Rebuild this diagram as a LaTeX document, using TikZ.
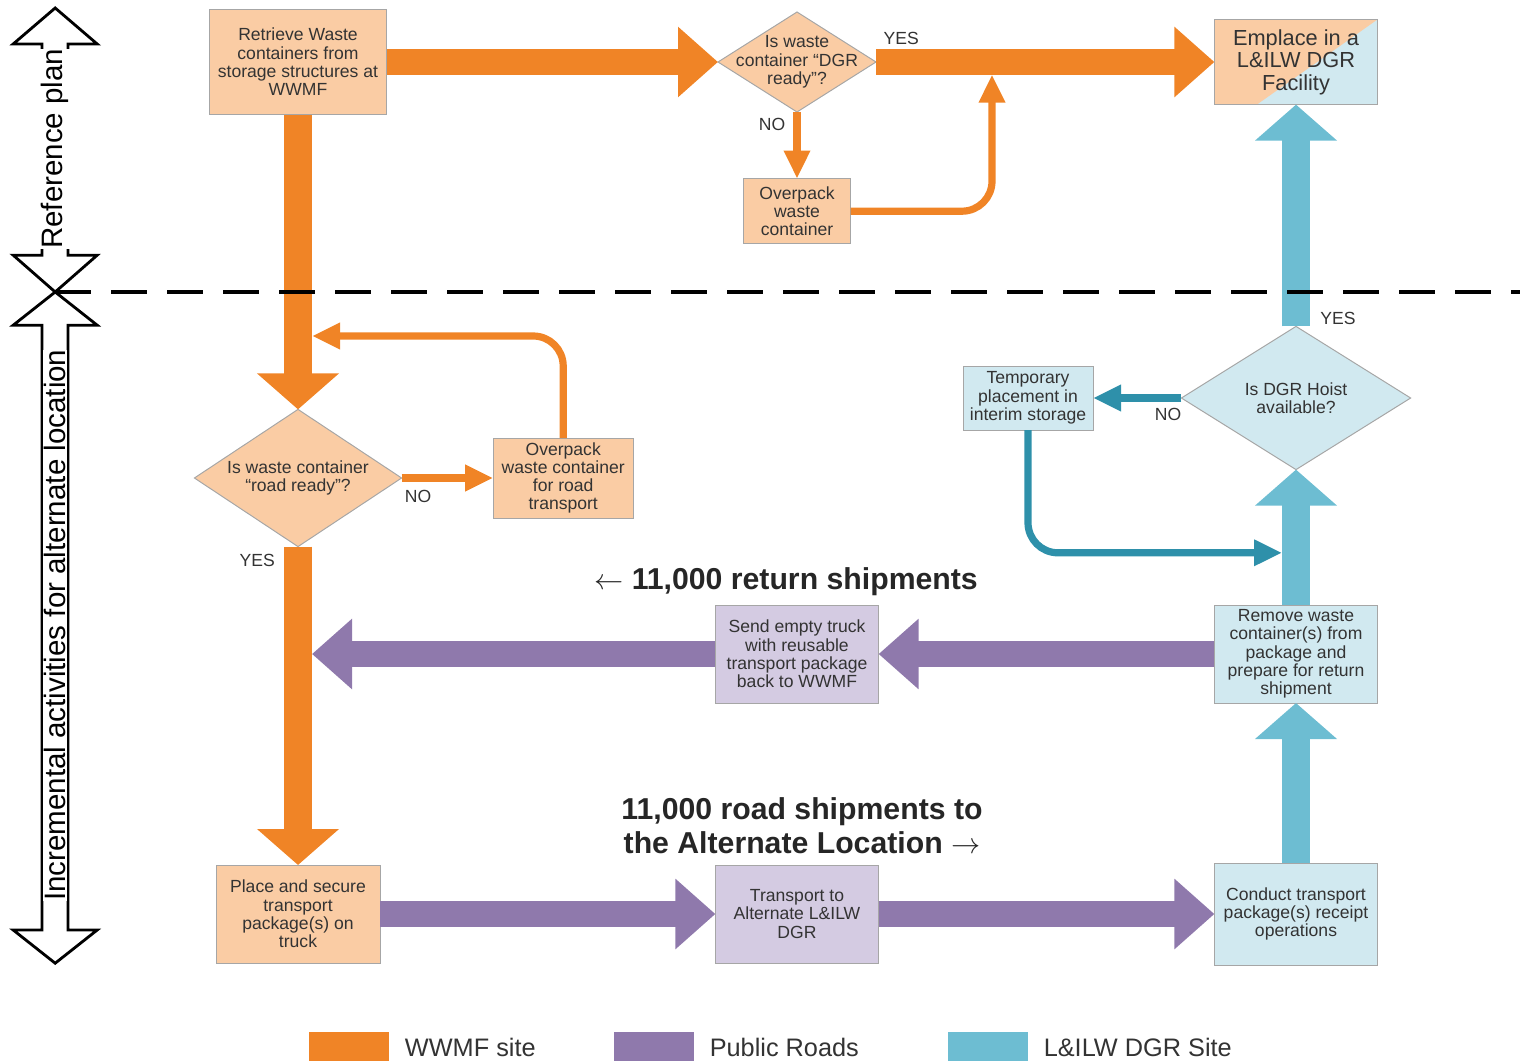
\documentclass[tikz,border=0pt]{standalone}
\usepackage{fontspec}
\setmainfont{Liberation Sans}
\usetikzlibrary{arrows.meta,calc,positioning,shapes.geometric}
\definecolor{wwmfc}{RGB}{240,132,38}
\definecolor{wwmfl}{RGB}{250,204,164}
\definecolor{roadc}{RGB}{143,121,172}
\definecolor{roadl}{RGB}{212,203,226}
\definecolor{sitec}{RGB}{109,189,210}
\definecolor{sitel}{RGB}{209,233,240}
\definecolor{sited}{RGB}{46,144,170}
\tikzset{box/.style={draw=black!35,line width=0.7pt,align=center,inner sep=2pt,outer sep=0pt,
    minimum width=4.08cm,minimum height=2.45cm,text=black!80,font=\fontsize{12.5}{13}\selectfont},
  dia/.style={box,diamond,inner sep=0pt},
  hflow/.style={line width=0.63cm,-{Triangle[length=1cm,width=1.7cm]}},
  vflow/.style={line width=0.7cm,-{Triangle[length=0.9cm,width=2cm]}},
  thinflow/.style={line width=0.18cm,-{Triangle[length=0.7cm,width=0.62cm]}}}

\begin{document}
\begin{tikzpicture}[
  tag/.style={text=black!80,font=\fontsize{12.5}{13}\selectfont,inner sep=0pt},
  big/.style={align=center,text=black!85,font=\fontsize{21.5}{24}\selectfont\bfseries},
  side/.style={rotate=90,fill=white,inner xsep=0pt,inner ysep=1pt,font=\fontsize{21}{22}\selectfont},
  key/.style={minimum width=2cm,minimum height=0.9cm,inner sep=0pt}]
\useasboundingbox (0,0) rectangle (38,-26.5);
\node[box,fill=wwmfl,minimum width=4.43cm,minimum height=2.63cm] (retrieve) at (7.45,-1.55) {Retrieve Waste\\containers from\\storage structures at\\WWMF};
\node[dia,fill=wwmfl,aspect=1.58,inner sep=-7pt,minimum width=3.95cm,minimum height=2.5cm] (dgrq) at (19.925,-1.55) {Is waste\\container ``DGR\\ready''?};
\node[box,fill=sitel,minimum height=2.13cm,font=\fontsize{15.5}{16}\selectfont,
  path picture={\fill[wwmfl] (path picture bounding box.north west) -- (path picture bounding box.north east)
    -- ($(path picture bounding box.south west)!0.26!(path picture bounding box.south east)$) -- (path picture bounding box.south west) -- cycle;}]
  (emplace) at (32.4,-1.55) {Emplace in a\\L\&ILW DGR\\Facility};
\node[box,fill=wwmfl,minimum width=2.68cm,minimum height=1.63cm] (ovpk) at (19.925,-5.28) {Overpack\\waste\\container};
\node[dia,fill=wwmfl,aspect=1.51,minimum width=5.18cm,minimum height=3.43cm] (roadq) at (7.45,-11.95) {Is waste container\\``road ready''?};
\node[box,fill=wwmfl,minimum width=3.5cm,minimum height=2cm] (ovpkroad) at (14.08,-11.95) {Overpack\\waste container\\for road\\transport};
\node[box,fill=sitel,minimum width=3.25cm,minimum height=1.6cm] (temp) at (25.7,-9.95) {Temporary\\placement in\\interim storage};
\node[dia,fill=sitel,aspect=1.6,minimum width=5.73cm,minimum height=3.58cm] (hoist) at (32.4,-9.95) {Is DGR Hoist\\available?};
\node[box,fill=sitel] (remove) at (32.4,-16.35) {Remove waste\\container(s) from\\package and\\prepare for return\\shipment};
\node[box,fill=roadl] (sendback) at (19.925,-16.35) {Send empty truck\\with reusable\\transport package\\back to WWMF};
\node[box,fill=wwmfl,minimum width=4.1cm] (place) at (7.45,-22.85) {Place and secure\\transport\\package(s) on\\truck};
\node[box,fill=roadl] (transport) at (19.925,-22.85) {Transport to\\Alternate L\&ILW\\DGR};
\node[box,fill=sitel,minimum height=2.55cm] (receipt) at (32.4,-22.85) {Conduct transport\\package(s) receipt\\operations};
\coordinate (dgrin) at (24.8,-1.865);
\coordinate (roadin) at (7.8,-8.4);
\coordinate (hoistin) at (32.05,-13.82);
\coordinate (rethit) at (7.8,-16.35);
\draw[hflow,wwmfc] (retrieve) -- (dgrq);
\draw[hflow,wwmfc] (dgrq) -- (emplace);
\draw[vflow,wwmfc] (retrieve) -- (roadq);
\draw[vflow,wwmfc] (roadq) -- (place);
\draw[hflow,roadc] (place) -- (transport);
\draw[hflow,roadc] (transport) -- (receipt);
\draw[vflow,sitec] (receipt) -- (remove);
\draw[vflow,sitec] (remove) -- (hoist);
\draw[vflow,sitec] (hoist) -- (emplace);
\draw[hflow,roadc] (remove) -- (sendback);
\draw[hflow,roadc] (sendback) -- (rethit);
\draw[thinflow,wwmfc] (dgrq) -- (ovpk);
\draw[thinflow,wwmfc,rounded corners=0.75cm] (ovpk) -| (dgrin);
\draw[thinflow,wwmfc] (roadq) -- (ovpkroad);
\draw[thinflow,wwmfc,rounded corners=0.75cm] (ovpkroad) |- (roadin);
\draw[thinflow,sited] (hoist) -- (temp);
\draw[thinflow,sited,rounded corners=0.75cm] (temp) |- (hoistin);
\node[tag] (yes1) at (22.53,-0.95) {YES};
\node[tag] (no1) at (19.3,-3.1) {NO};
\node[tag] (no2) at (10.45,-12.4) {NO};
\node[tag] (yes2) at (6.43,-14) {YES};
\node[tag] (yes3) at (33.45,-7.95) {YES};
\node[tag] (no3) at (29.2,-10.35) {NO};
\node[big] (retlbl) at (19.65,-14.55) {$\leftarrow$ 11,000 return shipments};
\node[big] (outlbl) at (20.05,-20.65) {11,000 road shipments to\\the Alternate Location $\rightarrow$};
\draw[line width=2pt] (1.38,-0.2) -- (2.43,-1.1) -- (1.7,-1.1) -- (1.7,-6.38) -- (2.43,-6.38) -- (1.38,-7.3)
  -- (0.33,-6.38) -- (1.05,-6.38) -- (1.05,-1.1) -- (0.33,-1.1) -- cycle;
\draw[line width=2pt] (1.38,-7.3) -- (2.43,-8.13) -- (1.7,-8.13) -- (1.7,-23.25) -- (2.43,-23.25) -- (1.38,-24.08)
  -- (0.33,-23.25) -- (1.05,-23.25) -- (1.05,-8.13) -- (0.33,-8.13) -- cycle;
\node[side] (refplan) at (1.38,-3.72) {Reference plan};
\node[side] (altloc) at (1.38,-15.63) {Incremental activities for alternate location};
\draw[line width=2.2pt,dash pattern=on 0.9cm off 0.5cm] (1.38,-7.3) -- (38,-7.3);
\foreach \x/\c/\t in {8.73/wwmfc/WWMF site,16.35/roadc/Public Roads,24.7/sitec/L\&ILW DGR Site}
  {\node[key,fill=\c] (k\c) at (\x,-26.25) {};
   \node[anchor=west,inner sep=0pt,text=black!80,font=\fontsize{18}{20}\selectfont] at ([xshift=0.38cm,yshift=0.07cm]k\c.east) {\t};}
\end{tikzpicture}
\end{document}
